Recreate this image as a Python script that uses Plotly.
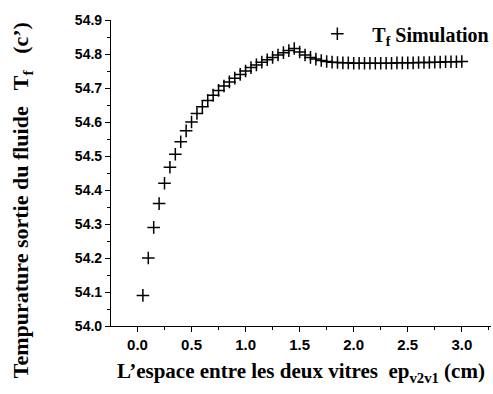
import plotly.graph_objects as go

ep_cm = [0.05, 0.10, 0.15, 0.20, 0.25, 0.30, 0.35, 0.40, 0.45, 0.50,
         0.55, 0.60, 0.65, 0.70, 0.75, 0.80, 0.85, 0.90, 0.95, 1.00,
         1.05, 1.10, 1.15, 1.20, 1.25, 1.30, 1.35, 1.40, 1.45, 1.50,
         1.55, 1.60, 1.65, 1.70, 1.75, 1.80, 1.85, 1.90, 1.95, 2.00,
         2.05, 2.10, 2.15, 2.20, 2.25, 2.30, 2.35, 2.40, 2.45, 2.50,
         2.55, 2.60, 2.65, 2.70, 2.75, 2.80, 2.85, 2.90, 2.95, 3.00]
tf_sim = [54.09, 54.20, 54.29, 54.36, 54.42, 54.467, 54.505, 54.542, 54.574, 54.600,
          54.625, 54.645, 54.663, 54.679, 54.693, 54.706, 54.718, 54.729, 54.740, 54.750,
          54.760, 54.768, 54.776, 54.783, 54.790, 54.797, 54.804, 54.810, 54.816, 54.806,
          54.797, 54.790, 54.785, 54.781, 54.778, 54.776, 54.775, 54.774, 54.774, 54.773,
          54.773, 54.773, 54.773, 54.773, 54.773, 54.773, 54.773, 54.774, 54.774, 54.774,
          54.774, 54.775, 54.775, 54.775, 54.776, 54.776, 54.777, 54.777, 54.777, 54.778]

x_ticks = [0.0, 0.5, 1.0, 1.5, 2.0, 2.5, 3.0]
y_ticks = [54.0, 54.1, 54.2, 54.3, 54.4, 54.5, 54.6, 54.7, 54.8, 54.9]

serif = "Liberation Serif"
sans = "Liberation Sans"

fig = go.Figure()
fig.add_trace(go.Scatter(
    x=ep_cm, y=tf_sim, mode="markers",
    name="\u00a0\u00a0\u00a0T<sub>f</sub> Simulation",
    marker=dict(symbol="cross-thin", size=9, color="black",
                line=dict(color="black", width=1.5)),
))

fig.update_layout(
    width=493, height=394,
    margin=dict(l=111, r=2, t=20, b=68, autoexpand=False),
    paper_bgcolor="white", plot_bgcolor="white",
    showlegend=True,
    legend=dict(x=0.543, y=0.955, xanchor="left", yanchor="middle",
                bgcolor="rgba(0,0,0,0)", itemwidth=30,
                font=dict(family=serif, size=20, color="black", weight=700)),
    xaxis=dict(
        range=[-0.245, 3.27], tickvals=x_ticks,
        ticktext=[f"<b>{v:.1f}</b>" for v in x_ticks],
        showgrid=False, zeroline=False, showline=True, linecolor="black", linewidth=1.2,
        ticks="outside", ticklen=5, tickwidth=1.2, tickcolor="black",
        minor=dict(dtick=0.25, tick0=0, ticks="outside", ticklen=3, tickwidth=1, tickcolor="black"),
        tickfont=dict(family=sans, size=15, color="black", weight=900),
        title=dict(text="L’espace entre les deux vitres  ep<sub>v2v1</sub> (cm)",
                   font=dict(family=serif, size=21, color="black", weight=700), standoff=11),
    ),
    yaxis=dict(
        range=[54.0, 54.9], tickvals=y_ticks,
        ticktext=[f"<b>{v:.1f}</b>" for v in y_ticks],
        showgrid=False, zeroline=False, showline=True, linecolor="black", linewidth=1.2,
        ticks="outside", ticklen=5, tickwidth=1.2, tickcolor="black",
        minor=dict(dtick=0.05, tick0=54.0, ticks="outside", ticklen=3, tickwidth=1, tickcolor="black"),
        tickfont=dict(family=sans, size=14, color="black", weight=900),
    ),
)

fig.add_annotation(
    text="Tempurature sortie du fluide   T<sub>f</sub>   (c’)",
    xref="paper", yref="paper", x=-0.235, y=0.41, textangle=-90,
    showarrow=False, xanchor="center", yanchor="middle",
    font=dict(family=serif, size=22, color="black", weight=700),
)

fig.write_html("out.html")
